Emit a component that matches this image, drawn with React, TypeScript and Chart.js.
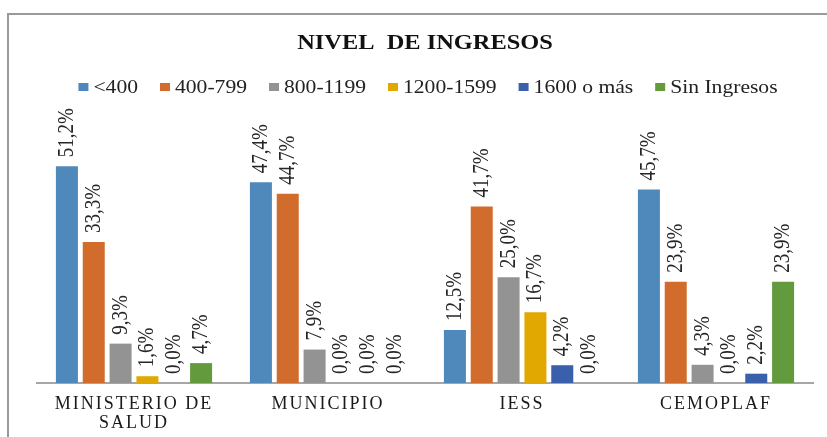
import React, { useEffect, useRef } from "react";
import { Chart, registerables } from "chart.js";

Chart.register(...registerables);

const TITLE = "NIVEL  DE INGRESOS";
const categories: (string | string[])[] = [["MINISTERIO DE", "SALUD"], "MUNICIPIO", "IESS", "CEMOPLAF"];
const seriesNames = ["<400", "400-799", "800-1199", "1200-1599", "1600 o más", "Sin Ingresos"];
const seriesColors = ["#4F88BB", "#D16C2C", "#939393", "#E0A800", "#3A60AB", "#629A3D"];
const vLess400 = [51.2, 47.4, 12.5, 45.7];
const v400_799 = [33.3, 44.7, 41.7, 23.9];
const v800_1199 = [9.3, 7.9, 25.0, 4.3];
const v1200_1599 = [1.6, 0.0, 16.7, 0.0];
const v1600mas = [0.0, 0.0, 4.2, 2.2];
const vSinIngresos = [4.7, 0.0, 0.0, 23.9];
const seriesValues = [vLess400, v400_799, v800_1199, v1200_1599, v1600mas, vSinIngresos];

const SERIF = "'Liberation Serif', 'Times New Roman', serif";
const SX = 1.2; // horizontal stretch of the reference's text

const decorPlugin = {
  id: "decor",
  beforeDraw(chart: any) {
    const ctx = chart.ctx as CanvasRenderingContext2D;
    ctx.save();
    (ctx as any).letterSpacing = "0px";
    // frame
    ctx.strokeStyle = "#9a9a9a";
    ctx.lineWidth = 2;
    ctx.beginPath();
    ctx.moveTo(8, chart.height);
    ctx.lineTo(8, 14);
    ctx.lineTo(chart.width, 14);
    ctx.stroke();
    // title
    ctx.fillStyle = "#111111";
    ctx.font = `bold 20px ${SERIF}`;
    ctx.textAlign = "center";
    ctx.textBaseline = "middle";
    ctx.save();
    ctx.translate(425, 44);
    ctx.scale(1.22, 1);
    ctx.fillText(TITLE, 0, 0);
    ctx.restore();
    // legend
    ctx.font = `18px ${SERIF}`;
    ctx.textAlign = "left";
    const boxW = 10;
    const boxH = 8;
    const gapBoxText = 5;
    const gapItems = 22;
    const widths = seriesNames.map((n) => ctx.measureText(n).width * SX);
    const total =
      widths.reduce((a, w) => a + boxW + gapBoxText + w, 0) + gapItems * (seriesNames.length - 1);
    let x = 428 - total / 2;
    const ly = 87;
    seriesNames.forEach((n, i) => {
      ctx.fillStyle = seriesColors[i];
      ctx.fillRect(x, ly - boxH / 2, boxW, boxH);
      ctx.fillStyle = "#222222";
      ctx.save();
      ctx.translate(x + boxW + gapBoxText, ly + 1);
      ctx.scale(SX, 1);
      ctx.fillText(n, 0, 0);
      ctx.restore();
      x += boxW + gapBoxText + widths[i] + gapItems;
    });
    ctx.restore();
    // spacing for axis tick labels
    (ctx as any).letterSpacing = "2px";
  },
  afterDatasetsDraw(chart: any) {
    const ctx = chart.ctx as CanvasRenderingContext2D;
    ctx.save();
    (ctx as any).letterSpacing = "0px";
    ctx.font = `19px ${SERIF}`;
    ctx.fillStyle = "#262626";
    ctx.textAlign = "left";
    ctx.textBaseline = "middle";
    chart.data.datasets.forEach((ds: any, di: number) => {
      const meta = chart.getDatasetMeta(di);
      meta.data.forEach((bar: any, i: number) => {
        const v = ds.data[i] as number;
        const label = v.toFixed(1).replace(".", ",") + "%";
        ctx.save();
        ctx.translate(bar.x, bar.y - 9);
        ctx.scale(SX, 1);
        ctx.rotate(-Math.PI / 2);
        ctx.fillText(label, 0, 0);
        ctx.restore();
      });
    });
    ctx.restore();
    (ctx as any).letterSpacing = "0px";
  },
};

export default function App() {
  const ref = useRef<HTMLCanvasElement | null>(null);
  useEffect(() => {
    if (!ref.current) return;
    const chart = new Chart(ref.current, {
      type: "bar",
      data: {
        labels: categories,
        datasets: seriesNames.map((name, i) => ({
          label: name,
          data: seriesValues[i],
          backgroundColor: seriesColors[i],
          borderWidth: 0,
          categoryPercentage: 0.83,
          barPercentage: 0.82,
        })),
      },
      options: {
        animation: false,
        responsive: false,
        devicePixelRatio: 1,
        layout: { padding: { left: 37, right: 14, top: 129, bottom: 0 } },
        plugins: {
          legend: { display: false },
          title: { display: false },
          tooltip: { enabled: false },
        },
        scales: {
          x: {
            grid: { display: false, drawTicks: false },
            border: { display: true, color: "#A6A6A6", width: 2 },
            ticks: {
              color: "#1a1a1a",
              font: { family: SERIF, size: 18, lineHeight: 1.05 },
              padding: 12,
              maxRotation: 0,
              autoSkip: false,
            },
            afterFit: (s: any) => {
              s.height = 54;
            },
          },
          y: {
            display: false,
            min: 0,
            max: 60,
          },
        },
      },
      plugins: [decorPlugin],
    });
    return () => chart.destroy();
  }, []);
  return (
    <canvas
      ref={ref}
      width={827}
      height={437}
      style={{ position: "absolute", left: 0, top: 0, width: 827, height: 437 }}
    />
  );
}
